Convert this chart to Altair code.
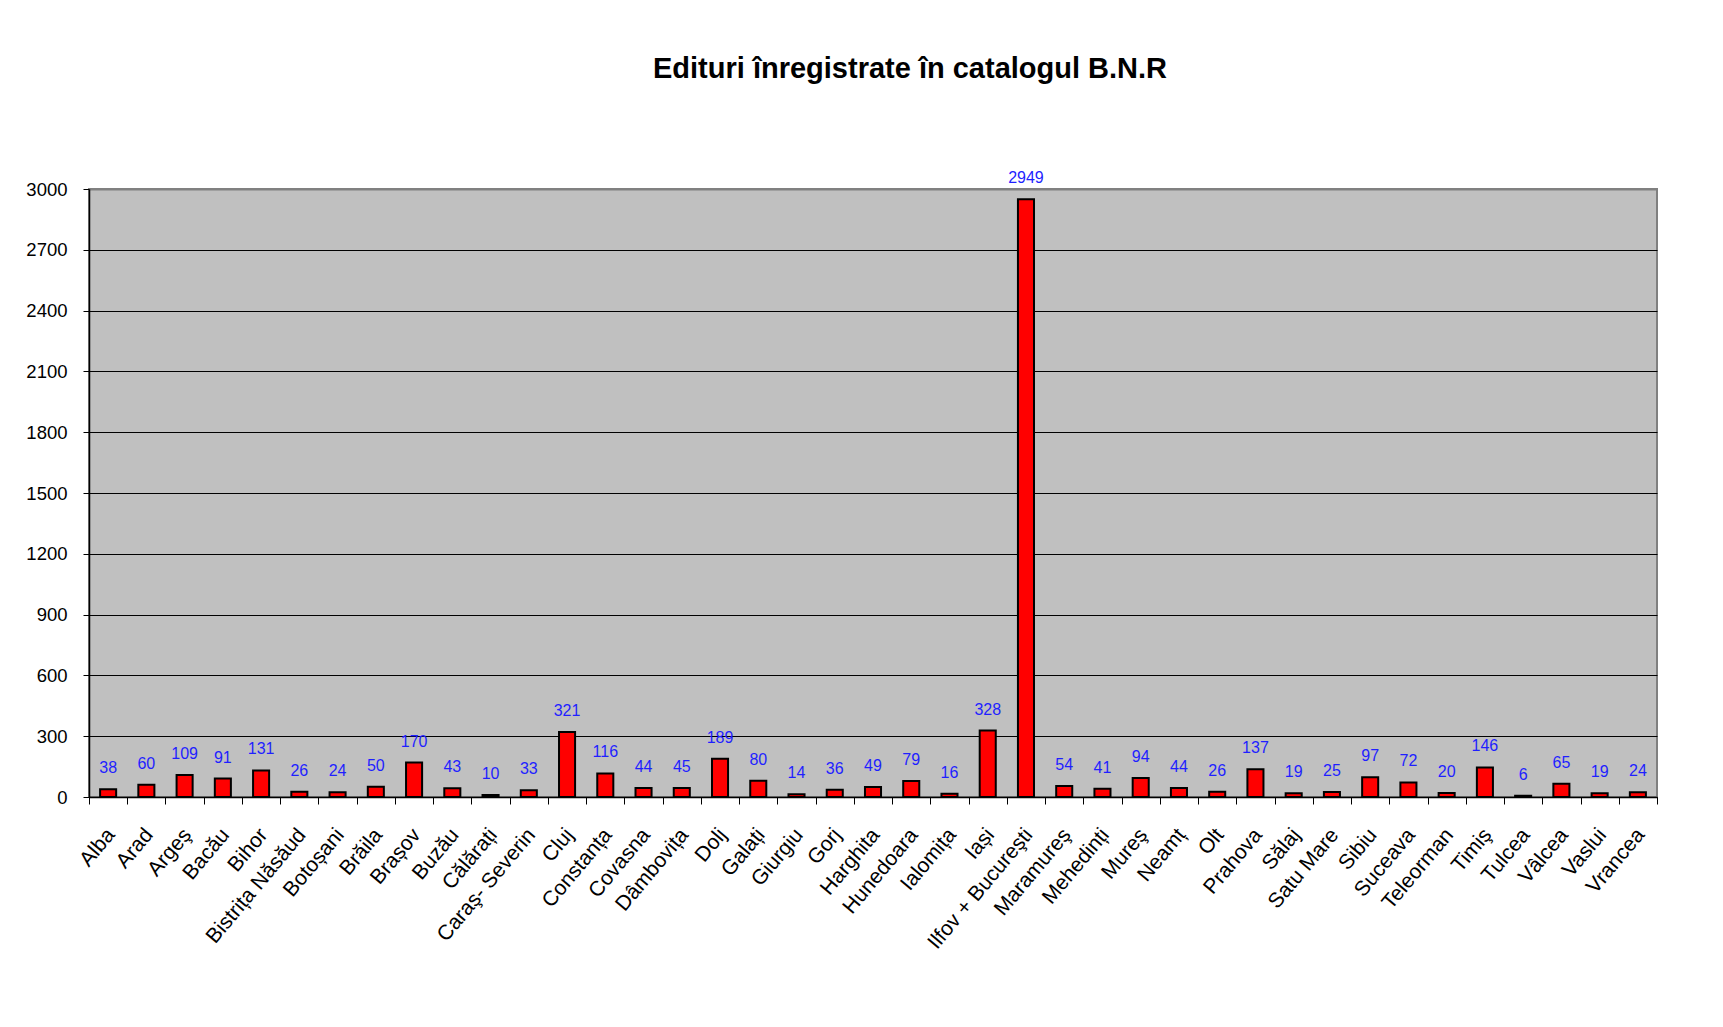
import altair as alt
import pandas as pd

judete = [
    "Alba", "Arad", "Argeş", "Bacău", "Bihor", "Bistrița Năsăud", "Botoșani",
    "Brăila", "Brașov", "Buzău", "Călărați", "Caraş- Severin", "Cluj",
    "Constanța", "Covasna", "Dâmbovița", "Dolj", "Galați", "Giurgiu", "Gorj",
    "Harghita", "Hunedoara", "Ialomița", "Iași", "Ilfov + Bucureşti",
    "Maramureş", "Mehedinți", "Mureş", "Neamț", "Olt", "Prahova", "Sălaj",
    "Satu Mare", "Sibiu", "Suceava", "Teleorman", "Timiş", "Tulcea", "Vâlcea",
    "Vaslui", "Vrancea",
]
edituri = [
    38, 60, 109, 91, 131, 26, 24, 50, 170, 43, 10, 33, 321, 116, 44, 45, 189,
    80, 14, 36, 49, 79, 16, 328, 2949, 54, 41, 94, 44, 26, 137, 19, 25, 97,
    72, 20, 146, 6, 65, 19, 24,
]
y_ticks = [0, 300, 600, 900, 1200, 1500, 1800, 2100, 2400, 2700, 3000]
titlu = "Edituri înregistrate în catalogul B.N.R"

df = pd.DataFrame({"judet": judete, "edituri": edituri})

x_enc = alt.X(
    "judet:N",
    sort=judete,
    title=None,
    scale=alt.Scale(paddingInner=0, paddingOuter=0),
    axis=alt.Axis(
        labelAngle=-50,
        labelAlign="right",
        labelBaseline="top",
        labelFont="Liberation Sans",
        labelFontSize=21,
        labelColor="black",
        labelPadding=20,
        labelOffset=-6,
        labelOverlap=False,
        labelLimit=0,
        tickBand="extent",
        tickSize=7,
        tickColor="black",
        tickWidth=1,
        domainColor="black",
        domainWidth=1.5,
        grid=False,
    ),
)
y_enc = alt.Y(
    "edituri:Q",
    title=None,
    scale=alt.Scale(domain=[0, 3000], nice=False),
    axis=alt.Axis(
        values=y_ticks,
        format="d",
        labelFont="Liberation Sans",
        labelFontSize=18.5,
        labelColor="black",
        labelPadding=16,
        tickSize=6,
        tickColor="black",
        tickWidth=1,
        domainColor="black",
        domainWidth=1.5,
        grid=True,
        gridColor={"condition": {"test": "datum.value >= 3000", "value": "#808080"}, "value": "black"},
        gridWidth={"condition": {"test": "datum.value >= 3000", "value": 2}, "value": 1.2},
    ),
)

bars = alt.Chart(df).mark_bar(
    color="#FF0000", stroke="black", strokeWidth=2, width={"band": 0.42}
).encode(x=x_enc, y=y_enc)

labels = alt.Chart(df).mark_text(
    dy=-16,
    baseline="alphabetic",
    font="Liberation Sans",
    fontSize=16,
    color="#1f1fff",
).encode(x=x_enc, y=y_enc, text="edituri:Q")

chart = (
    alt.layer(bars, labels)
    .properties(
        width=1568,
        height=608,
        title=alt.TitleParams(
            text=titlu,
            font="Liberation Sans",
            fontSize=29,
            fontWeight="bold",
            color="black",
            anchor="middle",
            frame="group",
            dx=37,
            offset=86,
        ),
        padding={"left": 81, "top": 181, "right": 58, "bottom": 222},
        autosize=alt.AutoSizeParams(type="none"),
    )
    .configure_view(fill="#C0C0C0", stroke="#808080", strokeWidth=2)
)

chart.save("out.html", embed_options={"renderer": "svg", "actions": False})
